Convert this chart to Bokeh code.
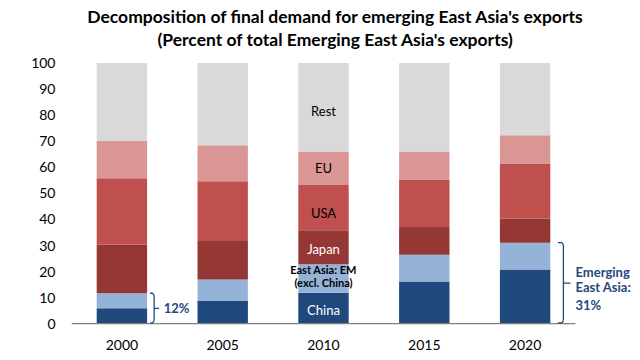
from bokeh.plotting import figure
from bokeh.models import Range1d, FixedTicker, ColumnDataSource
from bokeh.core.properties import value
from bokeh.embed import file_html
from bokeh.resources import INLINE

years = ["2000", "2005", "2010", "2015", "2020"]
china = [5.9, 8.7, 11.9, 16.2, 20.8]
em_excl_china = [5.8, 8.3, 10.9, 10.3, 10.3]
japan = [18.7, 14.7, 13.1, 10.6, 9.3]
usa = [25.4, 23.0, 17.3, 18.2, 21.1]
eu = [14.3, 13.8, 12.9, 10.8, 10.8]
rest = [round(100 - (a + b + c + d + e), 1) for a, b, c, d, e in zip(china, em_excl_china, japan, usa, eu)]
series = ["China", "EM", "Japan", "USA", "EU", "Rest"]
colors = ["#1F497D", "#95B3D7", "#953735", "#C0504D", "#D99694", "#D9D9D9"]
y_ticks = [0, 10, 20, 30, 40, 50, 60, 70, 80, 90, 100]
bracket_2000_label = "12%"
bracket_2020_label = ["Emerging", "East Asia:", "31%"]
title_lines = ["Decomposition of final demand for emerging East Asia's exports",
               "(Percent of total Emerging East Asia's exports)"]

FONT = "Lato"
NAVY = "#1F497D"

W, H = 632, 352
LEFT, BOTTOM = 71, 28
PX_X = 100.8   # pixels per category
PX_Y = 2.606   # pixels per percent point
y0 = -0.3
x_end = -0.5 + (W - LEFT) / PX_X
y_end = y0 + (H - BOTTOM) / PX_Y

xs = list(range(len(years)))
src = ColumnDataSource(dict(x=xs, China=china, EM=em_excl_china, Japan=japan,
                            USA=usa, EU=eu, Rest=rest))

p = figure(width=W, height=H, output_backend="svg", toolbar_location=None,
           x_range=Range1d(-0.5, x_end), y_range=Range1d(y0, y_end),
           min_border_left=LEFT, min_border_right=0, min_border_top=0,
           min_border_bottom=BOTTOM)
p.outline_line_color = None
p.grid.grid_line_color = None

p.vbar_stack(series, x="x", width=0.5, source=src, color=colors, line_color=None)
p.line([-0.5, len(years) - 0.5], [0, 0], line_color="#7F7F7F", line_width=1.5)

p.xaxis.ticker = FixedTicker(ticks=xs)
p.xaxis.major_label_overrides = {i: y for i, y in enumerate(years)}
p.xaxis.major_tick_line_color = None
p.xaxis.minor_tick_line_color = None
p.xaxis.axis_line_color = None
p.xaxis.major_label_standoff = 9
p.xaxis.major_label_text_font = FONT
p.xaxis.major_label_text_font_size = "14px"
p.xaxis.major_label_text_color = "#000000"

p.yaxis.ticker = FixedTicker(ticks=y_ticks)
p.yaxis.major_tick_line_color = None
p.yaxis.minor_tick_line_color = None
p.yaxis.axis_line_color = None
p.yaxis.major_label_standoff = 10
p.yaxis.major_label_text_font = FONT
p.yaxis.major_label_text_font_size = "14px"
p.yaxis.major_label_text_color = "#000000"

vals = [china, em_excl_china, japan, usa, eu, rest]
def seg_mid(i, k):
    base = sum(v[i] for v in vals[:k])
    return base + vals[k][i] / 2

i10 = years.index("2010")
lbls = [("Rest", seg_mid(i10, 5) - 1.5, "#000000"),
        ("EU", seg_mid(i10, 4), "#000000"),
        ("USA", seg_mid(i10, 3) - 2, "#000000"),
        ("Japan", seg_mid(i10, 2) - 0.7, "#FFFFFF"),
        ("China", seg_mid(i10, 0) - 0.5, "#FFFFFF")]
for t, yv, c in lbls:
    p.text(x=[i10], y=[yv], text=[t], text_align="center", text_baseline="middle",
           text_font=value(FONT), text_font_size="13px", text_color=c)
p.text(x=[i10, i10], y=[20.8, 15.9], text=["East Asia: EM", "(excl. China)"],
       text_align="center", text_baseline="middle", text_font=value(FONT),
       text_font_size="11px", text_color="#000000", text_font_style="bold")

def bracket(xc, top, dx_in, dx_v, dx_out):
    xv = xc + dx_v
    kw = dict(line_color=NAVY, line_width=1.3)
    p.line([xc + dx_in, xv - 0.015, xv], [0.3, 0.3, 1.2], **kw)
    p.line([xv, xv], [1.2, top - 0.9], **kw)
    p.line([xv, xv - 0.015, xc + dx_in], [top - 0.9, top, top], **kw)
    p.line([xv, xc + dx_out], [top / 2, top / 2], **kw)

top00 = china[0] + em_excl_china[0]
bracket(0, top00, 0.28, 0.32, 0.37)
p.text(x=[0.415], y=[top00 / 2], text=[bracket_2000_label], text_baseline="middle",
       text_font=value(FONT), text_font_size="13px", text_font_style="bold",
       text_color=NAVY)

top20 = china[4] + em_excl_china[4]
bracket(4, top20, 0.325, 0.38, 0.45)
p.text(x=[4.5] * 3, y=[19.7, 13.9, 7.0], text=bracket_2020_label, text_baseline="middle",
       text_font=value(FONT), text_font_size="13px", text_font_style="bold",
       text_color=NAVY)

p.text(x=[2.12, 2.12], y=[117.9, 109.1], text=title_lines, text_align="center",
       text_baseline="middle", text_font=value(FONT), text_font_size="17.5px",
       text_font_style="bold", text_color="#000000")

open("out.html", "w").write(file_html(p, INLINE))
